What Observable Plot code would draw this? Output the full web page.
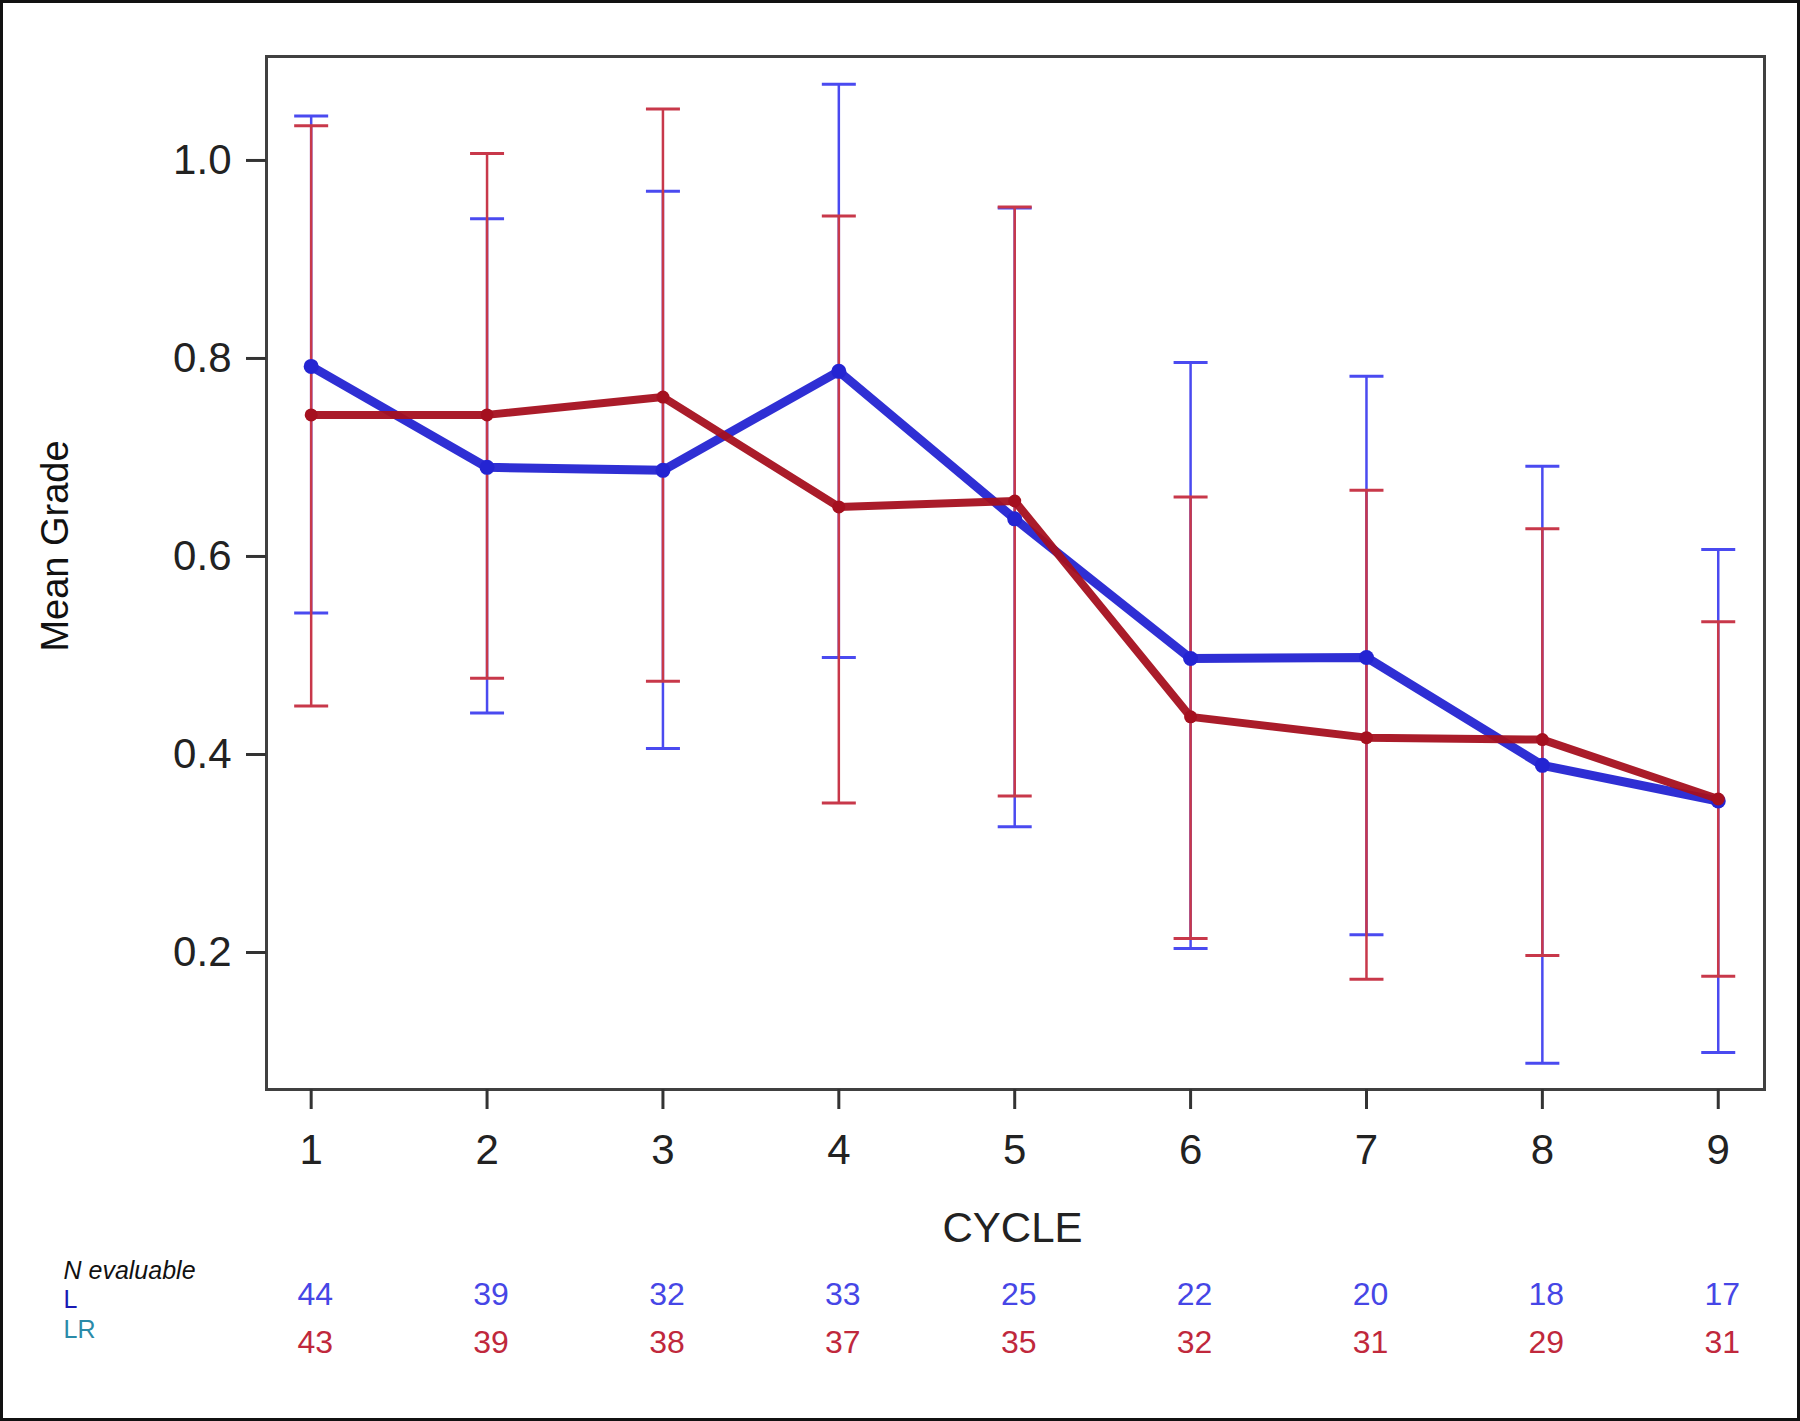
<!DOCTYPE html>
<html>
<head>
<meta charset="utf-8">
<script src="https://cdn.jsdelivr.net/npm/d3@7"></script>
<script src="https://cdn.jsdelivr.net/npm/@observablehq/plot@0.6"></script>
<style>
  html, body { margin: 0; padding: 0; background: #fff; }
  #wrap { position: relative; width: 1800px; height: 1421px; overflow: hidden; }
  #wrap svg { position: absolute; left: 0; top: 0; }
  #border { position: absolute; left: 0; top: 0; width: 1800px; height: 1421px; box-sizing: border-box; border: 3px solid #111; pointer-events: none; }
</style>
</head>
<body>
<div id="wrap"><div id="border"></div></div>
<script>
// ---- data ----
const cycles  = [1, 2, 3, 4, 5, 6, 7, 8, 9];
const meanL   = [0.792, 0.690, 0.687, 0.787, 0.638, 0.497, 0.498, 0.389, 0.353];
const lowerL  = [0.543, 0.442, 0.406, 0.498, 0.327, 0.204, 0.218, 0.088, 0.099];
const upperL  = [1.045, 0.941, 0.969, 1.077, 0.952, 0.796, 0.782, 0.691, 0.607];
const meanLR  = [0.743, 0.743, 0.761, 0.650, 0.656, 0.438, 0.417, 0.415, 0.355];
const lowerLR = [0.449, 0.477, 0.474, 0.351, 0.358, 0.214, 0.173, 0.197, 0.176];
const upperLR = [1.035, 1.007, 1.052, 0.944, 0.953, 0.660, 0.667, 0.628, 0.534];
const nL      = [44, 39, 32, 33, 25, 22, 20, 18, 17];
const nLR     = [43, 39, 38, 37, 35, 32, 31, 29, 31];
const yTicks  = [0.2, 0.4, 0.6, 0.8, 1.0];

const rows = cycles.map((c, i) => ({
  cycle: c,
  meanL: meanL[i], lowerL: lowerL[i], upperL: upperL[i],
  meanLR: meanLR[i], lowerLR: lowerLR[i], upperLR: upperLR[i],
  nL: nL[i], nLR: nLR[i]
}));

const blueLine = "#2424d2", blueErr = "#4a4af0";
const redLine = "#a5101f", redErr = "#c8384a";

// horizontal cap symbol for error bars
const capSymbol = {
  draw(ctx, size) {
    const r = Math.sqrt(size / Math.PI);
    ctx.moveTo(-r, 0);
    ctx.lineTo(r, 0);
  }
};

const errMarks = (lo, hi, color) => [
  Plot.ruleX(rows, {x: "cycle", y1: lo, y2: hi, stroke: color, strokeWidth: 2.5}),
  Plot.dot(rows, {x: "cycle", y: lo, symbol: capSymbol, r: 17, stroke: color, strokeWidth: 3, fill: "none"}),
  Plot.dot(rows, {x: "cycle", y: hi, symbol: capSymbol, r: 17, stroke: color, strokeWidth: 3, fill: "none"})
];

const T = {frameAnchor: "bottom", lineAnchor: "middle"};
const TL = {frameAnchor: "bottom-left", lineAnchor: "middle", textAnchor: "start", dx: -203};

const chart = Plot.plot({
  width: 1800,
  height: 1421,
  marginLeft: 266,
  marginRight: 36,
  marginTop: 56,
  marginBottom: 332,
  style: {fontFamily: "'Liberation Sans', Arial, sans-serif", background: "transparent", color: "#222"},
  x: {domain: [0.746, 9.263]},
  y: {domain: [0.0616, 1.105]},
  marks: [
    ...errMarks("lowerL", "upperL", blueErr),
    ...errMarks("lowerLR", "upperLR", redErr),
    Plot.line(rows, {x: "cycle", y: "meanL", stroke: blueLine, strokeWidth: 9, strokeOpacity: 0.95}),
    Plot.dot(rows, {x: "cycle", y: "meanL", r: 7.5, fill: blueLine}),
    Plot.line(rows, {x: "cycle", y: "meanLR", stroke: redLine, strokeWidth: 8, strokeOpacity: 0.95}),
    Plot.dot(rows, {x: "cycle", y: "meanLR", r: 6.5, fill: redLine}),
    Plot.frame({stroke: "#404040", strokeWidth: 3}),
    Plot.axisX({ticks: cycles, tickFormat: d3.format("d"), tickSize: 20, tickPadding: 25, fontSize: 42, strokeWidth: 3, stroke: "#333", fill: "#222", label: null}),
    Plot.axisY({ticks: yTicks, tickFormat: d3.format(".1f"), tickSize: 20, tickPadding: 15, fontSize: 42, strokeWidth: 3, stroke: "#333", fill: "#222", label: null}),
    Plot.text(["CYCLE"], {...T, text: d => d, dx: -3, dy: 139, fontSize: 42, fill: "#222"}),
    Plot.text(["Mean Grade"], {text: d => d, frameAnchor: "left", textAnchor: "middle", lineAnchor: "middle", dx: -211, dy: -27, rotate: -90, fontSize: 38, fill: "#111"}),
    Plot.text(["N evaluable"], {...TL, text: d => d, dy: 181, fontSize: 25, fontStyle: "italic", fill: "#111"}),
    Plot.text(["L"], {...TL, text: d => d, dy: 210, fontSize: 25, fill: "#1a1ab4"}),
    Plot.text(["LR"], {...TL, text: d => d, dy: 240, fontSize: 25, fill: "#2a8aa8"}),
    Plot.text(rows, {...T, x: "cycle", text: "nL", dx: 4, dy: 205, fontSize: 32, fill: "#4646e6"}),
    Plot.text(rows, {...T, x: "cycle", text: "nLR", dx: 4, dy: 253, fontSize: 32, fill: "#c0283c"})
  ]
});
document.getElementById("wrap").insertBefore(chart, document.getElementById("border"));
</script>
</body>
</html>
